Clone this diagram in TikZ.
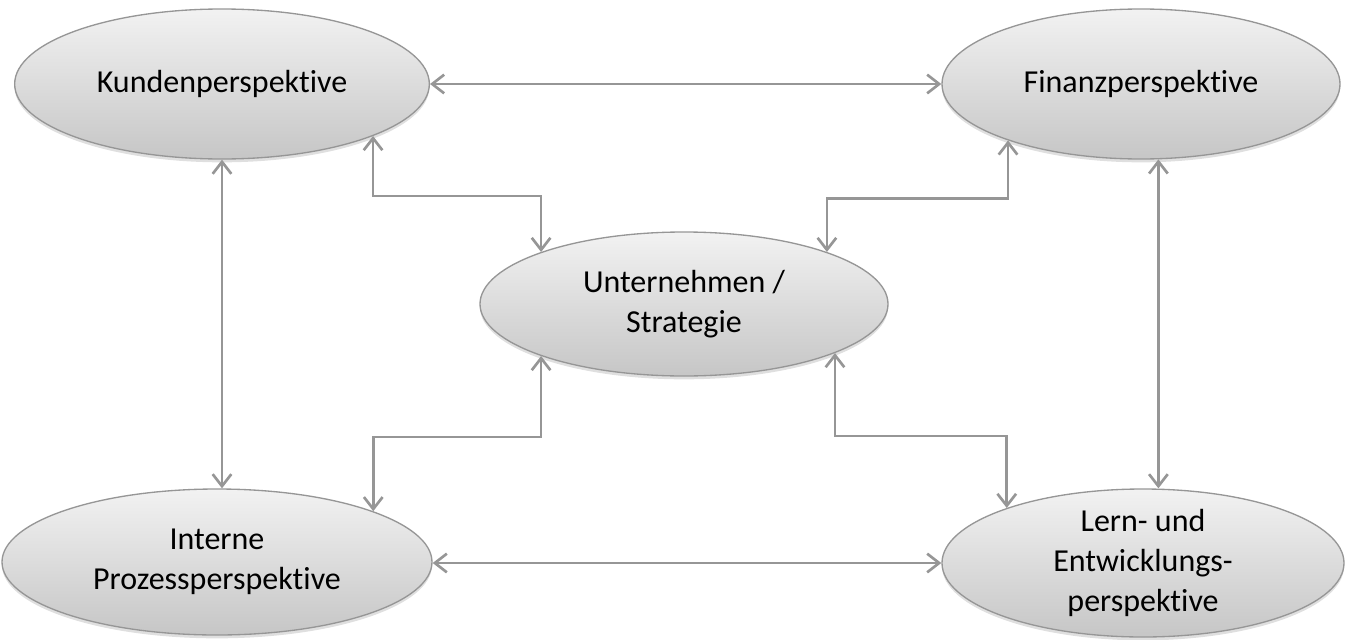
\documentclass[tikz,border=0pt]{standalone}
\usepackage{fontspec}
\setmainfont{Carlito}[Ligatures={NoCommon}]
\usetikzlibrary{shapes.geometric,arrows.meta,shadows}

\definecolor{linegray}{RGB}{150,150,150}
\definecolor{elltop}{RGB}{242,242,242}
\definecolor{ellbot}{RGB}{198,198,198}

% break the ti ligature
\newcommand{\nolig}{\kern0pt }

\tikzset{
  persp/.style={ellipse, draw=linegray, line width=1pt, top color=elltop, bottom color=ellbot,
    inner sep=0pt, align=center, font=\fontsize{24}{30}\selectfont,
    drop shadow={shadow xshift=0pt, shadow yshift=-2.5pt, opacity=0.25}},
  link/.style={draw=linegray, line width=2pt, {Straight Barb[length=9pt,width=14pt]}-{Straight Barb[length=9pt,width=14pt]}}
}

\begin{document}
\begin{tikzpicture}[x=0.75pt,y=0.75pt,yscale=-1,xscale=1]
\useasboundingbox (0,0) rectangle (1349,639);

% Ellipses
\node[persp, minimum width=311pt, minimum height=112.5pt] (kunden) at (222,84) {Kundenperspekt\nolig ive};
\node[persp, minimum width=298.5pt, minimum height=112.5pt] (finanz) at (1141,84) {Finanzperspekt\nolig ive};
\node[persp, minimum width=306pt, minimum height=108pt] (strategie) at (684,304) {Unternehmen /\\Strategie};
\node[persp, minimum width=322.5pt, minimum height=109.5pt] (intern) at (217,562) {Interne\\Prozessperspekt\nolig ive};
\node[persp, minimum width=301.5pt, minimum height=111pt, inner ysep=-6pt] (lern) at (1143,563) {Lern- und\\Entwicklungs-\\perspekt\nolig ive};

%Straight Lines
\draw[link] (kunden.east) -- (finanz.west);
\draw[link] (intern.east |- lern.west) -- (lern.west);
\draw[link] (kunden.south) -- (kunden.south |- intern.north);
\draw[link] (finanz.-77.2) -- (finanz.-77.2 |- lern.north);

%Elbow Lines
\draw[link] (kunden.-19.6) -- ++(0,60) -| (strategie.160.2);
\draw[link] (finanz.-157.8) -- ++(0,58) -| (strategie.20);
\draw[link] (strategie.-160.2) -- ++(0,81) -| (intern.18.5);
\draw[link] (strategie.-18) -- ++(0,83) -| (lern.158.45);

\end{tikzpicture}
\end{document}
